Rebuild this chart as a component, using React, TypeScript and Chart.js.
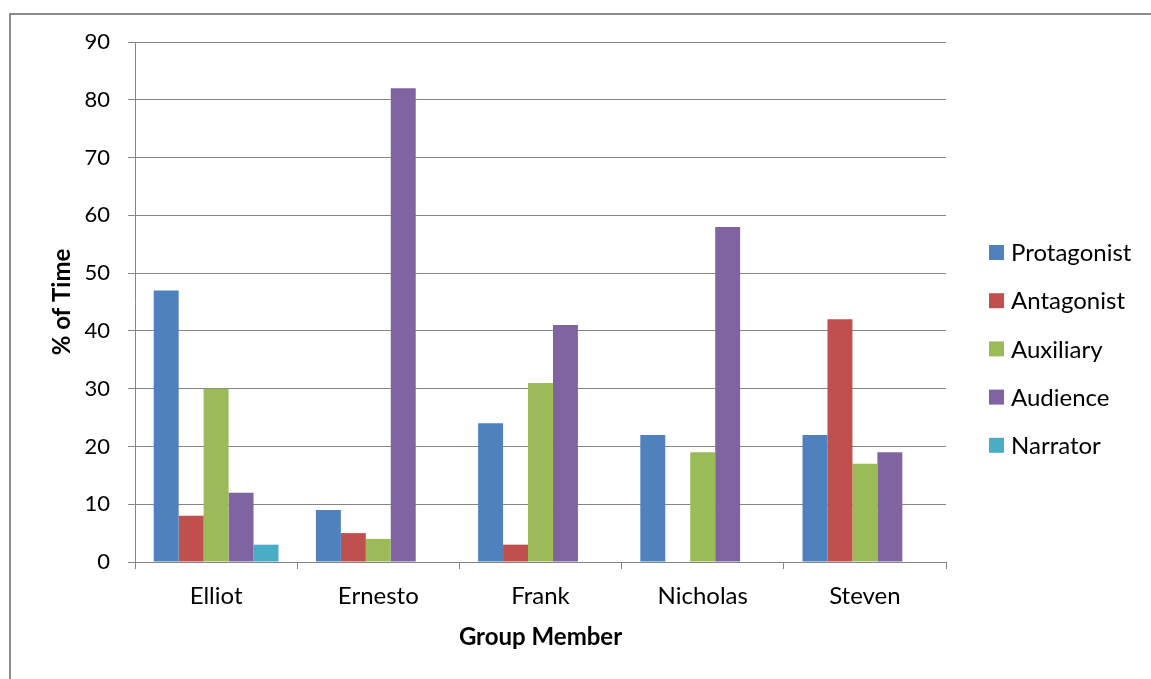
import React, { useEffect, useRef } from "react";
import { Chart, registerables } from "chart.js";

Chart.register(...registerables);

const categories = ["Elliot", "Ernesto", "Frank", "Nicholas", "Steven"];
const seriesNames = ["Protagonist", "Antagonist", "Auxiliary", "Audience", "Narrator"];
const protagonist = [47, 9, 24, 22, 22];
const antagonist = [8, 5, 3, 0, 42];
const auxiliary = [30, 4, 31, 19, 17];
const audience = [12, 82, 41, 58, 19];
const narrator = [3, 0, 0, 0, 0];
const seriesColors = ["#4F81BD", "#C0504D", "#9BBB59", "#8064A2", "#4BACC6"];
const yMin = 0;
const yMax = 90;
const yStep = 10;
const xTitle = "Group Member";
const yTitle = "% of Time";

const FONT = "Lato, 'Open Sans', sans-serif";

const legendPlugin = {
  id: "excelLegend",
  afterDraw(chart: any) {
    const ctx = chart.ctx;
    const ds = chart.data.datasets;
    const x0 = 989;
    const y0 = 252.5;
    const gap = 48.2;
    ctx.save();
    ctx.font = `24px ${FONT}`;
    ctx.textBaseline = "middle";
    ctx.textAlign = "left";
    ds.forEach((d: any, i: number) => {
      const cy = y0 + i * gap;
      ctx.fillStyle = d.backgroundColor;
      ctx.fillRect(x0, cy - 7.5, 15, 15);
      ctx.fillStyle = "#000";
      ctx.fillText(d.label, 1011, cy + 1);
    });
    ctx.restore();
  },
};

export default function App() {
  const ref = useRef<HTMLCanvasElement | null>(null);
  useEffect(() => {
    if (!ref.current) return;
    const values = [protagonist, antagonist, auxiliary, audience, narrator];
    const chart = new Chart(ref.current, {
      type: "bar",
      data: {
        labels: categories,
        datasets: seriesNames.map((name, i) => ({
          label: name,
          data: values[i],
          backgroundColor: seriesColors[i],
          borderWidth: 0,
          categoryPercentage: 5 / 6.5,
          barPercentage: 1,
        })),
      },
      options: {
        animation: false,
        responsive: false,
        maintainAspectRatio: false,
        devicePixelRatio: 1,
        layout: { padding: { left: 0, right: 205, top: 42, bottom: 0 } },
        plugins: {
          legend: { display: false },
          tooltip: { enabled: false },
        },
        scales: {
          x: {
            offset: true,
            grid: {
              offset: true,
              drawOnChartArea: false,
              drawTicks: true,
              tickLength: 7,
              color: "#868686",
              lineWidth: 1,
            },
            border: { display: true, color: "#868686", width: 1 },
            ticks: {
              color: "#000",
              font: { family: FONT, size: 24 },
              padding: 13,
              maxRotation: 0,
            },
            title: {
              display: true,
              text: xTitle,
              color: "#000",
              font: { family: FONT, size: 24, weight: "bold" },
              padding: { top: 0, bottom: 27.6 },
            },
            afterFit(scale: any) {
              scale.height = 679 - 562;
            },
          },
          y: {
            min: yMin,
            max: yMax,
            grid: {
              color: "#868686",
              lineWidth: 1,
              drawTicks: true,
              tickLength: 7,
            },
            border: { display: true, color: "#868686", width: 1 },
            ticks: {
              stepSize: yStep,
              color: "#000",
              font: { family: FONT, size: 22 },
              padding: 18,
            },
            title: {
              display: true,
              text: yTitle,
              color: "#000",
              font: { family: FONT, size: 24, weight: "bold" },
              padding: { top: 47.6, bottom: 0 },
            },
            afterFit(scale: any) {
              scale.width = 135;
            },
          },
        },
      },
      plugins: [legendPlugin],
    });
    return () => chart.destroy();
  }, []);

  return (
    <div
      style={{
        position: "absolute",
        left: 0,
        top: 0,
        width: 1151,
        height: 679,
        overflow: "hidden",
        background: "#fff",
      }}
    >
      <div
        style={{
          position: "absolute",
          left: 9,
          top: 13,
          width: 2000,
          height: 2000,
          border: "2px solid #8c8c8c",
          boxSizing: "border-box",
        }}
      />
      <canvas
        ref={ref}
        width={1151}
        height={679}
        style={{ position: "absolute", left: 0, top: 0, width: 1151, height: 679 }}
      />
    </div>
  );
}
